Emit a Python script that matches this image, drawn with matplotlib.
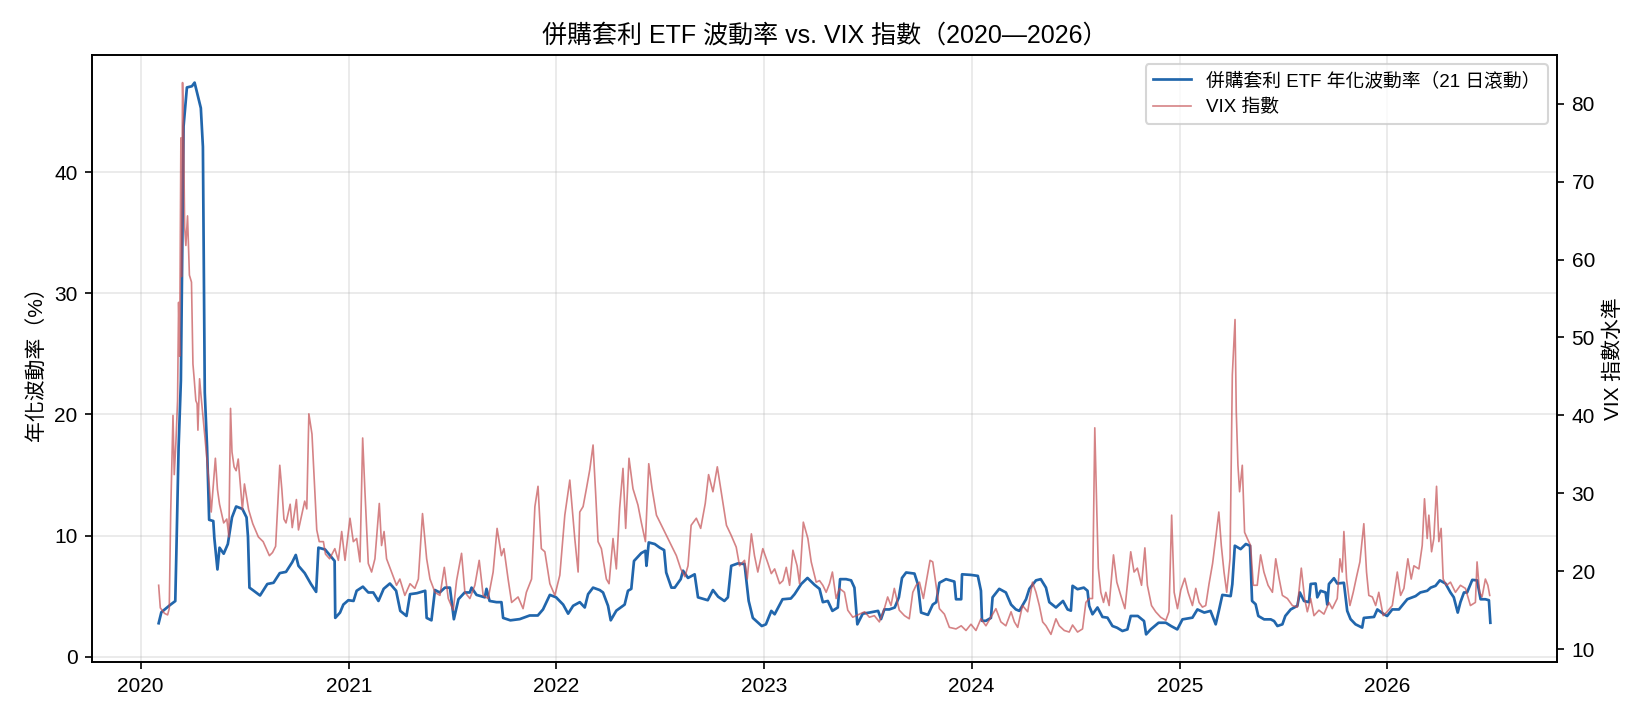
"""
Merger-arbitrage ETF volatility vs VIX, 2020-2026.
"""

import numpy as np
import pandas as pd
import matplotlib
matplotlib.use('Agg')
import matplotlib.pyplot as plt

# ── Data (time as decimal year) ───────────────────────────────────
ETF_T = [2020.087, 2020.10, 2020.143, 2020.167, 2020.172, 2020.183, 2020.194, 2020.207, 2020.223, 2020.247,
         2020.26, 2020.29, 2020.30, 2020.309, 2020.32, 2020.33, 2020.35, 2020.355, 2020.37, 2020.38,
         2020.40, 2020.42, 2020.44, 2020.46, 2020.49, 2020.51, 2020.517, 2020.524, 2020.54, 2020.575,
         2020.61, 2020.64, 2020.67, 2020.70, 2020.73, 2020.747, 2020.76, 2020.79, 2020.82, 2020.845,
         2020.856, 2020.888, 2020.934, 2020.937, 2020.96, 2020.976, 2021.0, 2021.025, 2021.04, 2021.07,
         2021.096, 2021.12, 2021.145, 2021.17, 2021.20, 2021.23, 2021.25, 2021.28, 2021.297, 2021.33,
         2021.37, 2021.377, 2021.40, 2021.417, 2021.44, 2021.465, 2021.489, 2021.502, 2021.508, 2021.53,
         2021.56, 2021.585, 2021.593, 2021.617, 2021.657, 2021.665, 2021.68, 2021.713, 2021.737, 2021.745,
         2021.78, 2021.825, 2021.873, 2021.912, 2021.937, 2021.97, 2022.0, 2022.034, 2022.058, 2022.082,
         2022.114, 2022.138, 2022.154, 2022.178, 2022.21, 2022.226, 2022.25, 2022.263, 2022.29, 2022.33,
         2022.346, 2022.362, 2022.375, 2022.41, 2022.43, 2022.435, 2022.446, 2022.475, 2022.499, 2022.52,
         2022.53, 2022.555, 2022.571, 2022.60, 2022.611, 2022.635, 2022.667, 2022.683, 2022.73, 2022.755,
         2022.78, 2022.81, 2022.827, 2022.843, 2022.875, 2022.907, 2022.927, 2022.947, 2022.99, 2023.01,
         2023.036, 2023.052, 2023.09, 2023.13, 2023.148, 2023.18, 2023.21, 2023.244, 2023.268, 2023.284,
         2023.308, 2023.33, 2023.356, 2023.367, 2023.396, 2023.42, 2023.436, 2023.45, 2023.476, 2023.508,
         2023.55, 2023.564, 2023.58, 2023.604, 2023.63, 2023.65, 2023.665, 2023.685, 2023.725, 2023.741,
         2023.757, 2023.79, 2023.813, 2023.83, 2023.845, 2023.877, 2023.917, 2023.925, 2023.95, 2023.954,
         2023.997, 2024.03, 2024.045, 2024.05, 2024.069, 2024.093, 2024.101, 2024.133, 2024.165, 2024.19,
         2024.213, 2024.23, 2024.262, 2024.278, 2024.31, 2024.333, 2024.358, 2024.374, 2024.406, 2024.44,
         2024.462, 2024.478, 2024.486, 2024.51, 2024.54, 2024.558, 2024.566, 2024.582, 2024.606, 2024.63,
         2024.654, 2024.678, 2024.70, 2024.726, 2024.75, 2024.766, 2024.80, 2024.83, 2024.84, 2024.862,
         2024.9, 2024.935, 2024.96, 2024.99, 2025.015, 2025.063, 2025.087, 2025.12, 2025.15, 2025.175,
         2025.19, 2025.207, 2025.247, 2025.255, 2025.267, 2025.295, 2025.32, 2025.34, 2025.35, 2025.367,
         2025.38, 2025.408, 2025.44, 2025.456, 2025.472, 2025.496, 2025.51, 2025.536, 2025.568, 2025.58,
         2025.6, 2025.624, 2025.632, 2025.656, 2025.664, 2025.68, 2025.704, 2025.712, 2025.72, 2025.744,
         2025.76, 2025.792, 2025.808, 2025.824, 2025.848, 2025.88, 2025.888, 2025.937, 2025.953, 2025.985,
         2026.0, 2026.025, 2026.057, 2026.097, 2026.137, 2026.16, 2026.193, 2026.21, 2026.233, 2026.254,
         2026.281, 2026.305, 2026.321, 2026.34, 2026.353, 2026.37, 2026.385, 2026.41, 2026.433, 2026.45,
         2026.473, 2026.49, 2026.497]
ETF_VOL = [2.76, 3.67, 4.28, 4.59, 8.4, 17.3, 22.8, 43.8, 47.0, 47.1,
           47.4, 45.3, 42.1, 21.8, 17.3, 11.3, 11.2, 9.8, 7.2, 9.0,
           8.5, 9.3, 11.5, 12.4, 12.2, 11.5, 9.9, 5.7, 5.5, 5.05,
           6.0, 6.1, 6.9, 7.0, 7.8, 8.4, 7.5, 6.9, 6.0, 5.35,
           9.0, 8.85, 7.9, 3.2, 3.64, 4.3, 4.66, 4.6, 5.44, 5.78,
           5.3, 5.3, 4.6, 5.6, 6.04, 5.44, 3.78, 3.36, 5.16, 5.24,
           5.44, 3.2, 3.0, 5.5, 5.3, 5.7, 5.7, 3.9, 3.09, 4.74,
           5.3, 5.3, 5.7, 5.1, 4.9, 5.6, 4.6, 4.5, 4.5, 3.2,
           3.0, 3.1, 3.4, 3.4, 3.9, 5.1, 4.9, 4.3, 3.55, 4.2,
           4.5, 4.06, 5.16, 5.7, 5.5, 5.3, 4.2, 3.0, 3.8, 4.3,
           5.44, 5.6, 7.9, 8.55, 8.74, 7.5, 9.43, 9.3, 9.0, 8.8,
           6.95, 5.7, 5.7, 6.4, 7.1, 6.5, 6.8, 4.9, 4.66, 5.5,
           4.95, 4.6, 4.9, 7.5, 7.7, 7.65, 4.6, 3.2, 2.53, 2.67,
           3.78, 3.5, 4.74, 4.8, 5.16, 6.0, 6.5, 5.93, 5.6, 4.5,
           4.6, 3.78, 4.06, 6.4, 6.4, 6.3, 5.7, 2.67, 3.55, 3.64,
           3.78, 3.1, 3.9, 3.9, 4.06, 4.9, 6.5, 6.95, 6.86, 6.0,
           3.64, 3.45, 4.3, 4.5, 6.1, 6.4, 6.2, 4.74, 4.74, 6.8,
           6.75, 6.67, 5.44, 2.96, 2.96, 3.2, 4.9, 5.6, 5.3, 4.3,
           3.9, 3.78, 4.74, 5.6, 6.3, 6.4, 5.7, 4.5, 4.06, 4.6,
           3.9, 3.8, 5.85, 5.57, 5.7, 5.44, 4.2, 3.5, 4.06, 3.28,
           3.22, 2.53, 2.39, 2.12, 2.25, 3.36, 3.36, 2.94, 1.84, 2.25,
           2.8, 2.8, 2.53, 2.25, 3.08, 3.22, 3.9, 3.64, 3.78, 2.67,
           3.78, 5.1, 5.0, 5.98, 9.16, 8.88, 9.3, 9.16, 4.6, 4.33,
           3.36, 3.08, 3.08, 2.94, 2.53, 2.67, 3.36, 3.9, 4.2, 5.3,
           4.6, 4.5, 6.0, 6.04, 4.9, 5.44, 5.3, 4.3, 6.0, 6.48,
           6.04, 6.1, 3.78, 3.1, 2.67, 2.4, 3.2, 3.28, 3.9, 3.5,
           3.36, 3.9, 3.9, 4.74, 5.0, 5.3, 5.44, 5.7, 5.85, 6.3,
           6.04, 5.3, 4.9, 3.64, 4.5, 5.3, 5.3, 6.34, 6.3, 4.74,
           4.74, 4.66, 2.8]

VIX_T = [2020.087, 2020.095, 2020.115, 2020.13, 2020.138, 2020.145, 2020.156, 2020.162, 2020.170, 2020.178,
         2020.183, 2020.188, 2020.194, 2020.197, 2020.202, 2020.207, 2020.212, 2020.218, 2020.226, 2020.235,
         2020.245, 2020.252, 2020.258, 2020.266, 2020.272, 2020.276, 2020.284, 2020.29, 2020.31, 2020.33,
         2020.34, 2020.36, 2020.37, 2020.38, 2020.40, 2020.415, 2020.425, 2020.433, 2020.44, 2020.45,
         2020.46, 2020.47, 2020.49, 2020.50, 2020.52, 2020.54, 2020.567, 2020.59, 2020.62, 2020.635,
         2020.65, 2020.67, 2020.68, 2020.69, 2020.70, 2020.72, 2020.73, 2020.75, 2020.76, 2020.79,
         2020.80, 2020.81, 2020.825, 2020.848, 2020.86, 2020.88, 2020.89, 2020.91, 2020.935, 2020.952,
         2020.968, 2020.984, 2021.008, 2021.024, 2021.04, 2021.056, 2021.069, 2021.08, 2021.096, 2021.112,
         2021.128, 2021.149, 2021.16, 2021.172, 2021.184, 2021.208, 2021.232, 2021.248, 2021.272, 2021.297,
         2021.32, 2021.337, 2021.357, 2021.377, 2021.393, 2021.417, 2021.441, 2021.462, 2021.481, 2021.505,
         2021.521, 2021.545, 2021.561, 2021.585, 2021.609, 2021.63, 2021.649, 2021.673, 2021.697, 2021.716,
         2021.737, 2021.749, 2021.769, 2021.786, 2021.817, 2021.841, 2021.857, 2021.882, 2021.898, 2021.913,
         2021.929, 2021.946, 2021.97, 2021.994, 2022.018, 2022.042, 2022.066, 2022.09, 2022.106, 2022.114,
         2022.13, 2022.146, 2022.162, 2022.178, 2022.19, 2022.202, 2022.218, 2022.242, 2022.255, 2022.274,
         2022.29, 2022.306, 2022.322, 2022.335, 2022.351, 2022.37, 2022.394, 2022.41, 2022.43, 2022.446,
         2022.462, 2022.483, 2022.507, 2022.531, 2022.555, 2022.579, 2022.60, 2022.62, 2022.635, 2022.65,
         2022.675, 2022.696, 2022.718, 2022.734, 2022.755, 2022.776, 2022.795, 2022.82, 2022.843, 2022.867,
         2022.883, 2022.907, 2022.92, 2022.94, 2022.955, 2022.971, 2022.995, 2023.02, 2023.036, 2023.052,
         2023.076, 2023.092, 2023.108, 2023.124, 2023.14, 2023.16, 2023.172, 2023.19, 2023.212, 2023.228,
         2023.252, 2023.268, 2023.284, 2023.30, 2023.316, 2023.33, 2023.348, 2023.364, 2023.388, 2023.404,
         2023.428, 2023.46, 2023.485, 2023.508, 2023.532, 2023.556, 2023.58, 2023.596, 2023.612, 2023.628,
         2023.652, 2023.677, 2023.70, 2023.717, 2023.733, 2023.749, 2023.768, 2023.784, 2023.80, 2023.813,
         2023.829, 2023.845, 2023.869, 2023.893, 2023.925, 2023.95, 2023.973, 2023.997, 2024.021, 2024.045,
         2024.069, 2024.093, 2024.117, 2024.141, 2024.165, 2024.19, 2024.206, 2024.222, 2024.245, 2024.27,
         2024.293, 2024.31, 2024.326, 2024.342, 2024.358, 2024.382, 2024.406, 2024.422, 2024.446, 2024.47,
         2024.486, 2024.51, 2024.534, 2024.55, 2024.566, 2024.582, 2024.593, 2024.603, 2024.61, 2024.622,
         2024.635, 2024.646, 2024.662, 2024.683, 2024.699, 2024.718, 2024.738, 2024.766, 2024.782, 2024.798,
         2024.818, 2024.834, 2024.846, 2024.866, 2024.886, 2024.91, 2024.935, 2024.95, 2024.963, 2024.975,
         2024.991, 2025.007, 2025.026, 2025.042, 2025.063, 2025.079, 2025.095, 2025.111, 2025.127, 2025.143,
         2025.16, 2025.175, 2025.19, 2025.202, 2025.215, 2025.228, 2025.244, 2025.255, 2025.268, 2025.274,
         2025.282, 2025.29, 2025.303, 2025.314, 2025.327, 2025.343, 2025.356, 2025.375, 2025.391, 2025.407,
         2025.427, 2025.448, 2025.464, 2025.48, 2025.496, 2025.52, 2025.544, 2025.568, 2025.587, 2025.603,
         2025.616, 2025.632, 2025.648, 2025.672, 2025.696, 2025.72, 2025.736, 2025.76, 2025.773, 2025.784,
         2025.792, 2025.805, 2025.821, 2025.837, 2025.853, 2025.869, 2025.888, 2025.901, 2025.912, 2025.929,
         2025.945, 2025.96, 2025.981, 2026.0, 2026.025, 2026.049, 2026.065, 2026.081, 2026.1, 2026.116,
         2026.129, 2026.153, 2026.169, 2026.18, 2026.193, 2026.201, 2026.214, 2026.225, 2026.238, 2026.249,
         2026.26, 2026.27, 2026.286, 2026.305, 2026.329, 2026.353, 2026.377, 2026.401, 2026.425, 2026.433,
         2026.445, 2026.457, 2026.473, 2026.485, 2026.494]
VIX = [18.2, 15.3, 14.6, 14.4, 15.2, 27.6, 40.0, 32.4, 36.5, 41.9,
       54.5, 47.6, 75.6, 57.8, 82.7, 75.9, 64.2, 61.8, 65.6, 58.0,
       57.1, 46.6, 44.7, 41.9, 41.5, 38.1, 44.7, 42.8, 37.1, 31.2,
       27.6, 34.5, 30.5, 28.6, 26.2, 26.7, 24.4, 40.9, 35.3, 33.4,
       32.9, 34.4, 27.9, 31.2, 27.9, 26.1, 24.4, 23.8, 22.0, 22.4,
       23.2, 33.6, 30.5, 26.7, 26.2, 28.6, 25.6, 29.2, 25.3, 29.0,
       28.0, 40.2, 37.6, 25.3, 23.8, 23.8, 22.2, 21.6, 22.9, 21.4,
       25.1, 21.4, 26.8, 23.8, 24.2, 21.2, 37.1, 30.2, 21.0, 19.9,
       21.6, 28.7, 23.3, 25.1, 21.6, 19.9, 18.2, 19.0, 16.9, 18.4,
       17.8, 19.0, 27.4, 21.6, 19.0, 17.3, 16.9, 20.5, 16.5, 15.0,
       18.8, 22.3, 17.3, 16.5, 18.2, 21.4, 16.9, 16.5, 19.9, 25.5,
       22.0, 22.9, 19.0, 16.0, 16.7, 15.2, 17.3, 19.0, 28.3, 30.9,
       22.9, 22.5, 18.4, 16.9, 19.5, 27.2, 31.7, 24.2, 19.9, 27.6,
       28.3, 30.6, 33.0, 36.2, 30.2, 23.8, 22.9, 19.0, 18.4, 24.2,
       20.3, 28.1, 33.2, 25.5, 34.5, 30.6, 28.5, 26.3, 23.8, 33.8,
       30.6, 27.2, 25.9, 24.6, 23.3, 22.0, 20.3, 19.3, 20.7, 25.9,
       26.8, 25.5, 28.7, 32.4, 30.2, 33.4, 30.2, 25.9, 24.6, 23.1,
       20.7, 21.4, 19.0, 24.8, 22.0, 19.9, 22.9, 21.0, 19.7, 20.3,
       18.4, 18.8, 20.5, 18.2, 22.7, 20.7, 18.4, 26.3, 24.2, 21.2,
       18.6, 18.8, 18.2, 17.3, 18.4, 19.9, 16.5, 17.8, 17.3, 15.0,
       14.1, 14.5, 14.8, 14.1, 14.3, 13.5, 15.2, 16.7, 15.6, 17.8,
       15.0, 14.3, 13.9, 17.3, 18.2, 18.6, 16.5, 19.0, 21.4, 21.2,
       18.2, 15.2, 14.5, 12.8, 12.6, 13.0, 12.4, 13.2, 12.4, 13.9,
       13.0, 14.1, 15.2, 13.5, 13.0, 14.8, 13.5, 12.8, 15.6, 14.8,
       18.6, 17.3, 15.6, 13.5, 13.0, 11.9, 13.9, 13.0, 12.4, 12.2,
       13.1, 12.2, 12.6, 16.0, 16.5, 16.5, 38.4, 27.4, 20.4, 17.3,
       16.0, 17.3, 15.6, 22.1, 18.6, 16.9, 15.2, 22.5, 19.9, 20.4,
       18.2, 23.0, 18.2, 15.6, 14.8, 14.1, 13.7, 14.8, 27.2, 17.3,
       15.2, 17.6, 19.1, 17.3, 15.6, 17.8, 16.0, 15.4, 15.6, 18.4,
       21.0, 24.2, 27.6, 23.3, 19.9, 17.3, 21.6, 45.2, 52.3, 40.5,
       33.6, 30.2, 33.6, 25.0, 24.2, 23.3, 18.2, 18.2, 22.1, 19.9,
       18.2, 17.3, 21.6, 19.1, 16.9, 16.5, 15.6, 15.4, 20.4, 16.5,
       14.8, 16.5, 14.3, 15.0, 14.5, 16.0, 15.2, 16.5, 21.6, 19.9,
       25.1, 19.0, 15.6, 17.3, 19.3, 21.2, 26.1, 19.9, 16.9, 16.7,
       15.6, 17.3, 14.3, 14.8, 15.6, 19.9, 16.9, 17.8, 21.6, 19.0,
       20.7, 20.3, 23.3, 29.3, 24.2, 27.2, 22.5, 24.2, 30.9, 23.8,
       25.5, 19.0, 18.2, 18.6, 17.3, 18.2, 17.8, 15.6, 16.0, 21.2,
       17.3, 16.7, 19.0, 18.2, 16.9]

TITLE = '併購套利 ETF 波動率 vs. VIX 指數（2020—2026）'
ETF_LABEL = '併購套利 ETF 年化波動率（21 日滾動）'
VIX_LABEL = 'VIX 指數'


def to_dates(years):
    y = np.asarray(years)
    return pd.Timestamp('2020-01-01') + pd.to_timedelta((y - 2020.0) * 365.25, unit='D')


def main():
    plt.rcParams['font.family'] = ['Liberation Sans', 'Noto Sans CJK TC', 'DejaVu Sans']
    plt.rcParams['font.size'] = 10

    fig, ax1 = plt.subplots(figsize=(11, 4.8), dpi=150)
    fig.subplots_adjust(left=0.0558, right=0.9436, bottom=0.0806, top=0.9236)

    l1, = ax1.plot(to_dates(ETF_T), ETF_VOL, color='#2166ac', lw=1.3, label=ETF_LABEL)
    ax1.set_ylabel('年化波動率（%）')
    ax1.grid(alpha=0.3)

    ax2 = ax1.twinx()
    l2, = ax2.plot(to_dates(VIX_T), VIX, color='#c44e52', lw=0.8, alpha=0.7, label=VIX_LABEL)
    ax2.set_ylabel('VIX 指數水準')

    ax2.legend(handles=[l1, l2], loc='upper right', fontsize=9)
    ax1.set_title(TITLE, fontsize=12)

    fig.savefig('out.png', dpi=150, facecolor='white')
    plt.close(fig)


if __name__ == '__main__':
    main()
